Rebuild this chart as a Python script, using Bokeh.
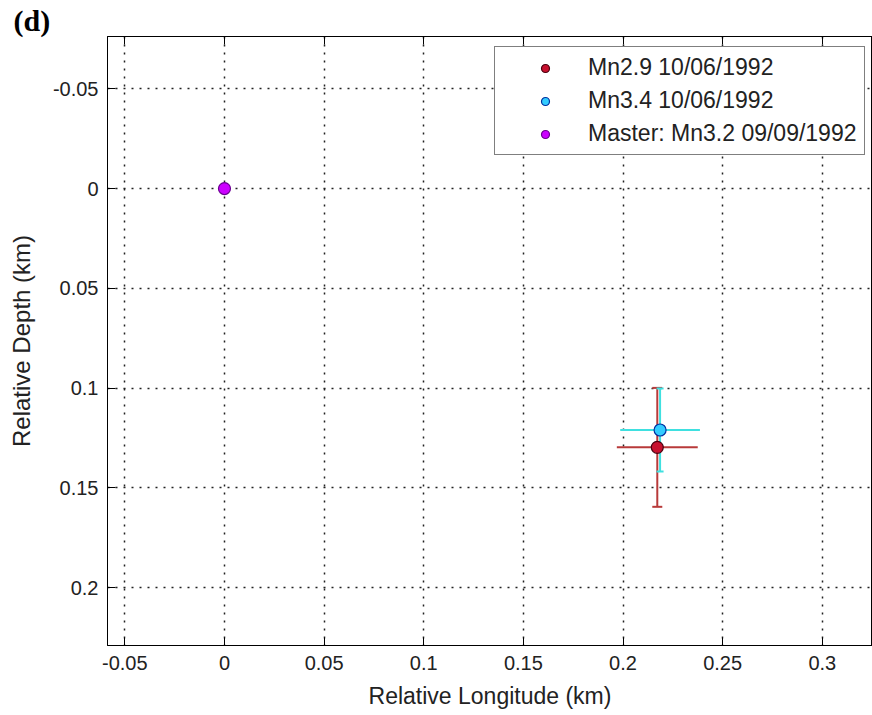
from bokeh.plotting import figure
from bokeh.models import (Range1d, FixedTicker, LinearAxis, Legend, LegendItem,
                          Whisker, ColumnDataSource, TeeHead)
from bokeh.embed import file_html
from bokeh.resources import INLINE

# ---------------- data ----------------
event_names = ["Mn2.9 10/06/1992", "Mn3.4 10/06/1992", "Master: Mn3.2 09/09/1992"]
rel_lon = [0.2172, 0.2186, 0.0]        # km
rel_depth = [0.1297, 0.1210, 0.0]      # km
lon_err = [0.0203, 0.0200, 0.0]
depth_err = [0.0298, 0.0208, 0.0]

xtick_vals = [-0.05, 0, 0.05, 0.1, 0.15, 0.2, 0.25, 0.3]
xtick_labels = ["-0.05", "0", "0.05", "0.1", "0.15", "0.2", "0.25", "0.3"]
ytick_vals = [-0.05, 0, 0.05, 0.1, 0.15, 0.2]
ytick_labels = ["-0.05", "0", "0.05", "0.1", "0.15", "0.2"]
x_limits = [-0.0587, 0.3252]
y_limits = [-0.0762, 0.2290]
panel_tag = "(d)"

# ---------------- styles ----------------
marker_fill = ["#c8102e", "#33ccff", "#cc00ff"]
marker_edge = ["#4a0010", "#0030a0", "#6a0090"]
bar_color = ["#b83a3a", "#3fe0e0", None]
cap_size = [10, 7, 0]

FONT = "Liberation Sans"
TXT = "#222222"

p = figure(width=872, height=715, output_backend="svg", toolbar_location=None,
           x_range=Range1d(x_limits[0], x_limits[1]),
           y_range=Range1d(y_limits[1], y_limits[0]),
           min_border_left=107, min_border_right=0, min_border_top=36, min_border_bottom=70,
           x_axis_label="Relative Longitude (km)", y_axis_label="Relative Depth (km)")
p.background_fill_color = "white"
p.border_fill_color = "white"
p.outline_line_color = "black"
p.outline_line_width = 1

# panel tag as the plot title, pushed into the top-left corner
p.title.text = panel_tag
p.title.text_font = "Liberation Serif"
p.title.text_font_style = "bold"
p.title.text_font_size = "30px"
p.title.text_color = "black"
p.title.align = "left"
p.title.offset = -94
p.title.standoff = 0

for ax, vals, labs in ((p.xaxis[0], xtick_vals, xtick_labels), (p.yaxis[0], ytick_vals, ytick_labels)):
    ax.ticker = FixedTicker(ticks=vals)
    ax.major_label_overrides = {float(v): l for v, l in zip(vals, labs)}
    ax.major_tick_in = 8
    ax.major_tick_out = 0
    ax.minor_tick_line_color = None
    ax.axis_line_color = "black"
    ax.major_tick_line_color = "black"
    ax.major_label_text_font = FONT
    ax.major_label_text_font_size = "20px"
    ax.major_label_text_color = TXT
    ax.axis_label_text_font = FONT
    ax.axis_label_text_font_style = "normal"
    ax.axis_label_text_color = TXT

p.xaxis.axis_label_text_font_size = "23px"
p.yaxis.axis_label_text_font_size = "24px"
p.xaxis.major_label_standoff = 10
p.xaxis.axis_label_standoff = 10
p.yaxis.major_label_standoff = 9
p.yaxis.axis_label_standoff = 15

top_axis = LinearAxis(ticker=FixedTicker(ticks=xtick_vals),
                      major_label_overrides={float(v): "" for v in xtick_vals},
                      major_tick_in=8, major_tick_out=0, minor_tick_line_color=None,
                      major_label_standoff=0, major_label_text_font_size="1px",
                      axis_line_color="black")
p.add_layout(top_axis, "above")

for g, vals in ((p.xgrid[0], xtick_vals), (p.ygrid[0], ytick_vals)):
    g.ticker = FixedTicker(ticks=vals)
    g.grid_line_color = "#222222"
    g.grid_line_width = 1.5
    g.grid_line_dash = "2 6"

# ---------------- error bars ----------------
for i in range(len(event_names)):
    if bar_color[i] is None:
        continue
    src = ColumnDataSource(dict(
        x=[rel_lon[i]], y=[rel_depth[i]],
        ylo=[rel_depth[i] - depth_err[i]], yhi=[rel_depth[i] + depth_err[i]],
        xlo=[rel_lon[i] - lon_err[i]], xhi=[rel_lon[i] + lon_err[i]]))
    p.add_layout(Whisker(source=src, base="x", lower="ylo", upper="yhi", dimension="height",
                         line_color=bar_color[i], line_width=2,
                         upper_head=TeeHead(size=cap_size[i], line_color=bar_color[i], line_width=2),
                         lower_head=TeeHead(size=cap_size[i], line_color=bar_color[i], line_width=2)))
    p.segment(x0="xlo", x1="xhi", y0="y", y1="y", source=src,
              line_color=bar_color[i], line_width=2)

# ---------------- markers ----------------
items = []
for i in range(len(event_names)):
    src = ColumnDataSource(dict(x=[rel_lon[i]], y=[rel_depth[i]]))
    r = p.scatter("x", "y", source=src, marker="circle", size=12,
                  fill_color=marker_fill[i], line_color=marker_edge[i], line_width=1.2)
    items.append(LegendItem(label=event_names[i], renderers=[r]))

legend = Legend(items=items, location=(387, 490),
                border_line_color="black", border_line_width=1.2,
                background_fill_color="white", background_fill_alpha=1,
                label_text_font=FONT, label_text_font_size="23px", label_text_color=TXT,
                padding=7, spacing=6, glyph_width=86, glyph_height=20, label_height=20,
                label_standoff=0, margin=0)
p.add_layout(legend)

open("out.html", "w").write(file_html(p, INLINE))
